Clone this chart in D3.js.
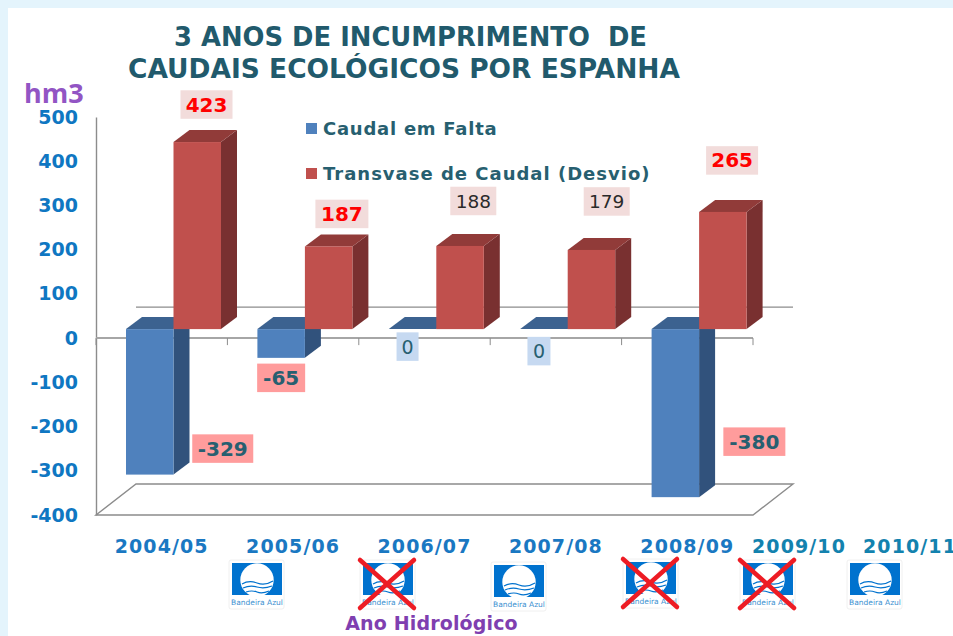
<!DOCTYPE html>
<html><head><meta charset="utf-8">
<script src="https://d3js.org/d3.v7.min.js"></script>
<style>html,body{margin:0;padding:0;background:#fff}svg{display:block}text{font-family:"DejaVu Sans",sans-serif}</style>
</head><body><div id="c"></div>
<script>
const categories = ["2004/05","2005/06","2006/07","2007/08","2008/09"];
const extraYears = ["2009/10","2010/11"];
const caudalEmFalta = [-329,-65,0,0,-380];
const transvase = [423,187,188,179,265];
const yTicks = [500,400,300,200,100,0,-100,-200,-300,-400];
const seriesNames = ["Caudal em Falta","Transvase de Caudal (Desvio)"];
const titleLines = ["3 ANOS DE INCUMPRIMENTO  DE","CAUDAIS ECOLÓGICOS POR ESPANHA"];
const flagCrossed = [false,true,false,true,true,false];

const W=953,H=636;
const svg=d3.select("#c").append("svg").attr("width",W).attr("height",H);
svg.append("rect").attr("width",W).attr("height",H).attr("fill","#e4f4fc");
svg.append("rect").attr("x",8).attr("y",8).attr("width",W-8).attr("height",H-8).attr("fill","#fff");

const x=d3.scaleBand().domain(categories).range([96,753]).padding(0);
const y=d3.scaleLinear().domain([-400,500]).range([515,117]);
const depth={dx:40,dy:-31};
const gray="#8c8c8c";

// walls / floor
const y0=y(0), yF=y(-400);
svg.append("path").attr("fill","none").attr("stroke",gray).attr("stroke-width",1.4)
  .attr("d",`M96,${yF}L${96+depth.dx},${yF+depth.dy}L${753+depth.dx},${yF+depth.dy}L753,${yF}Z`);
svg.append("line").attr("x1",96+depth.dx).attr("x2",793).attr("y1",y0+depth.dy).attr("y2",y0+depth.dy).attr("stroke",gray).attr("stroke-width",1.4);

// axes
const yAxis=d3.axisLeft(y).tickValues(yTicks).tickSize(0).tickPadding(18).tickFormat(d=>d<0?"-"+Math.abs(d):d);
const gy=svg.append("g").attr("transform","translate(96,0)").call(yAxis);
gy.select(".domain").attr("stroke",gray).attr("stroke-width",1.4);
gy.selectAll("text").attr("font-size",19).attr("font-weight","bold").attr("fill","#0f77c2").style("font-family","'DejaVu Sans'");
svg.append("line").attr("x1",96).attr("x2",753).attr("y1",y0).attr("y2",y0).attr("stroke","#a6a6a6").attr("stroke-width",2);
svg.append("g").selectAll("line").data(categories.concat([""])).join("line")
  .attr("x1",(d,i)=>96+i*x.bandwidth()).attr("x2",(d,i)=>96+i*x.bandwidth())
  .attr("y1",y0).attr("y2",y0+7).attr("stroke",gray);

// 3D bars
const barW=47.5, bx=11.8, by=-9, sd={dx:16,dy:-12};
function bar(g,xl,v,cols){
  const top=y(Math.max(v,0))+by, bot=y(Math.min(v,0))+by, r=xl+barW;
  g.append("path").attr("fill",cols.side).attr("d",`M${r},${top}L${r+sd.dx},${top+sd.dy}L${r+sd.dx},${bot+sd.dy}L${r},${bot}Z`);
  g.append("path").attr("fill",cols.top).attr("d",`M${xl},${top}L${xl+sd.dx},${top+sd.dy}L${r+sd.dx},${top+sd.dy}L${r},${top}Z`);
  if(bot>top) g.append("rect").attr("x",xl).attr("y",top).attr("width",barW).attr("height",bot-top).attr("fill",cols.front);
}
const blue={front:"#4f81bd",side:"#31527c",top:"#3c6290"};
const red={front:"#c0504d",side:"#793030",top:"#913b39"};
const bars=svg.append("g");
categories.forEach((c,i)=>{
  const cx=x(c)+x.bandwidth()/2+bx;
  bar(bars,cx-barW,caudalEmFalta[i],blue);
  bar(bars,cx,transvase[i],red);
});

// data labels
function label(cx,cy,w,txt,bg,col){
  const h=28.5;
  svg.append("rect").attr("x",cx-w/2).attr("y",cy-h/2).attr("width",w).attr("height",h).attr("fill",bg);
  svg.append("text").attr("x",cx).attr("y",cy+7).attr("text-anchor","middle").attr("font-size",col.size)
    .attr("font-weight",col.weight).attr("fill",col.fill).text(txt);
}
const redBold={size:20,weight:"bold",fill:"#ff0000"};
const darkReg={size:18.5,weight:"normal",fill:"#2a2a2a"};
const tealBold={size:20,weight:"bold",fill:"#275f70"};
const tealReg={size:19,weight:"normal",fill:"#275f70"};
const topOff=[{dx:33,dy:-37.5,w:52,s:redBold,bg:"#f2dcdb"},{dx:37,dy:-32.5,w:53,s:redBold,bg:"#f2dcdb"},
  {dx:37,dy:-45,w:46,s:darkReg,bg:"#f2dcdb"},{dx:39,dy:-48.5,w:46,s:darkReg,bg:"#f2dcdb"},{dx:33,dy:-51.5,w:52,s:redBold,bg:"#f2dcdb"}];
const lowOff=[{dx:73,dy:-26,w:61,s:tealBold,bg:"#ff9c9c"},{dx:0,dy:20,w:48,s:tealBold,bg:"#ff9c9c"},
  {dx:-5,dy:17.5,w:22,s:tealReg,bg:"#c6d9f1"},{dx:-5,dy:22,w:23,s:tealReg,bg:"#c6d9f1"},{dx:79,dy:-55.5,w:62,s:tealBold,bg:"#ff9c9c"}];
categories.forEach((c,i)=>{
  const cx=x(c)+x.bandwidth()/2+bx;
  const a=topOff[i]; label(cx+a.dx,y(transvase[i])+by+a.dy,a.w,transvase[i],a.bg,a.s);
  const b=lowOff[i]; label(cx-barW/2+b.dx,y(caudalEmFalta[i])+by+b.dy,b.w,caudalEmFalta[i]<0?"-"+Math.abs(caudalEmFalta[i]):caudalEmFalta[i],b.bg,b.s);
});

// x labels
const xLabels=svg.append("g").attr("font-size",19).attr("font-weight","bold").attr("text-anchor","middle").attr("letter-spacing",1.1);
const xCenters=categories.map(c=>x(c)+x.bandwidth()/2).concat([799,910]);
categories.concat(extraYears).forEach((t,i)=>{
  xLabels.append("text").attr("x",xCenters[i]).attr("y",553).attr("fill",i<5?"#1a78c2":"#1382ae").text(t);
});

// title
const titleCx=[410.5,404], titleLen=[473,552];
svg.append("g").selectAll("text").data(titleLines).join("text")
  .attr("x",(d,i)=>titleCx[i]).attr("y",(d,i)=>46+i*32).attr("text-anchor","middle")
  .attr("font-size",27).attr("font-weight","bold").attr("fill","#215a6c").style("white-space","pre")
  .attr("textLength",(d,i)=>titleLen[i]).attr("lengthAdjust","spacingAndGlyphs").text(d=>d);

svg.append("text").attr("x",24).attr("y",103).attr("font-size",27).attr("font-weight","bold").attr("fill","#9255c4").style("font-family","'Open Sans'").text("hm3");
svg.append("text").attr("x",431.5).attr("y",630).attr("text-anchor","middle").attr("font-size",19).attr("font-weight","bold").attr("letter-spacing",0.15).attr("fill","#7f3fb0").text("Ano Hidrológico");

// legend
seriesNames.forEach((n,i)=>{
  const ly=[128,173][i];
  svg.append("rect").attr("x",306).attr("y",ly-5).attr("width",11).attr("height",11).attr("fill",i?red.front:blue.front);
  svg.append("text").attr("x",323).attr("y",ly+7).attr("font-size",18).attr("font-weight","bold").attr("letter-spacing",i?1:0.75).attr("fill","#275f70").text(n);
});

// flags
const flagX=[229,360,491,623,740,847], flagY=[560,560,562,559,560,560];
flagX.forEach((fx,i)=>{
  const g=svg.append("g").attr("transform",`translate(${fx},${flagY[i]})`);
  g.append("rect").attr("width",55).attr("height",49).attr("rx",2).attr("fill","#fff").attr("stroke","#f0f0f0");
  g.append("rect").attr("x",3).attr("y",3).attr("width",50).attr("height",32).attr("fill","#0072ce");
  g.append("circle").attr("cx",28).attr("cy",20).attr("r",16.7).attr("fill","#fff");
  ["M13,24Q20,20 28,23T44,21","M14,28Q21,25 28,27T43,26","M17,32Q23,30 28,32T40,31"].forEach(p=>
    g.append("path").attr("d",p).attr("fill","none").attr("stroke","#0072ce").attr("stroke-width",1.2));
  g.append("text").attr("x",28).attr("y",45).attr("text-anchor","middle").attr("font-size",7.5).attr("fill","#3a8fd0").text("Bandeira Azul");
  if(flagCrossed[i]){
    [[0,0,54,48],[54,0,0,48]].forEach(l=>g.append("line").attr("x1",l[0]).attr("y1",l[1]).attr("x2",l[2]).attr("y2",l[3])
      .attr("stroke","#ed1c24").attr("stroke-width",4.5).attr("stroke-linecap","round"));
  }
});
</script></body></html>
